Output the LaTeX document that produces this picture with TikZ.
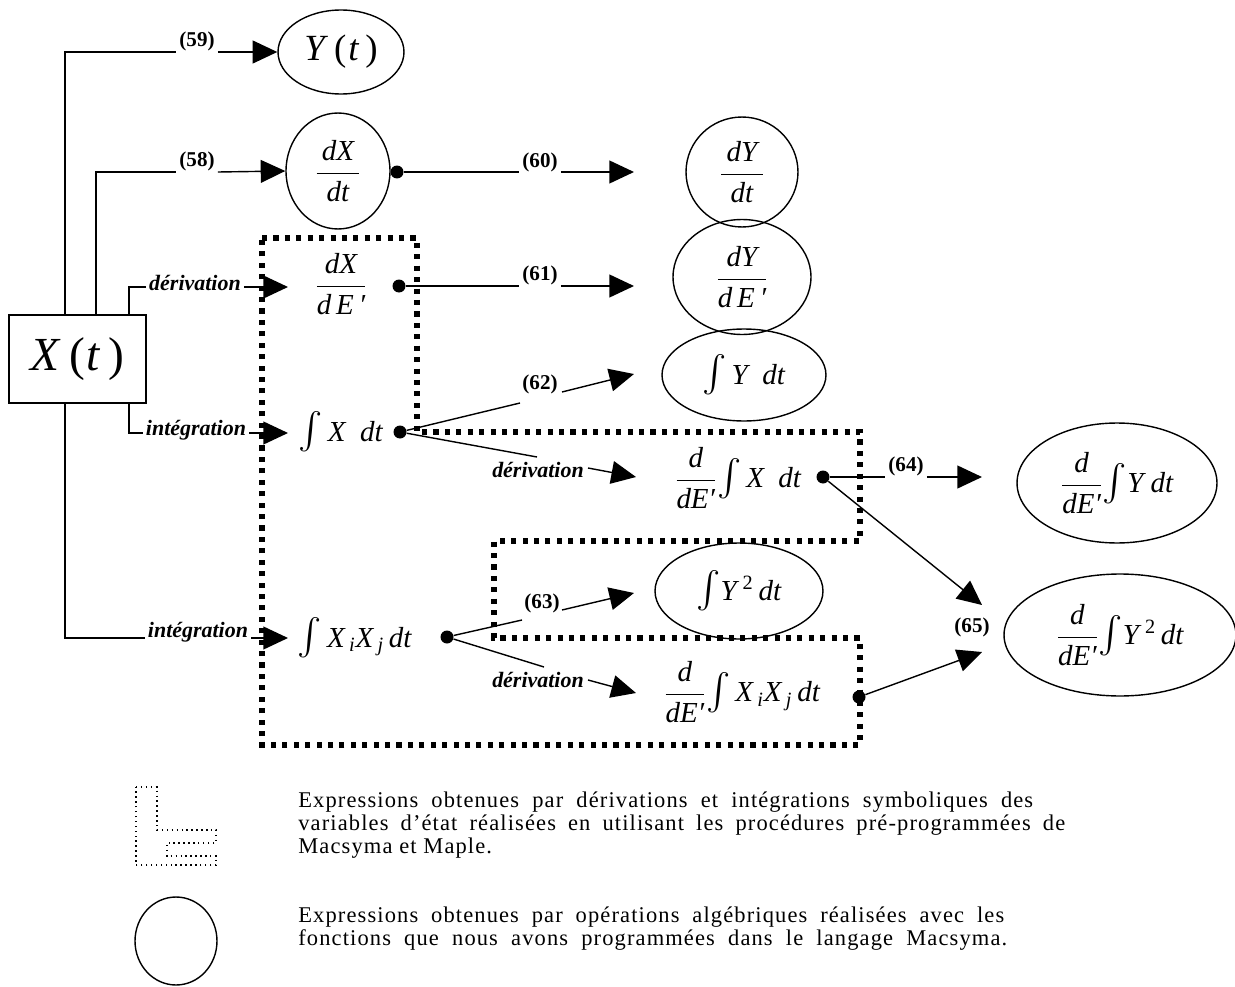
\documentclass[tikz,border=0pt]{standalone}
\usepackage{amsmath}
\usepackage{fontspec}
\setmainfont{Liberation Serif}
\newfontfamily\legff[LetterSpace=5]{Liberation Serif}
\usetikzlibrary{shapes.geometric,arrows.meta,calc}
\newcommand\myfrac[2]{$\dfrac{\text{\itshape\kern3pt#1\kern3pt}}{\text{\itshape#2}}$}
\newcommand\myint{{\fontsize{21}{24}\selectfont$\int$}}
\begin{document}
\begin{tikzpicture}[x=0.02cm,y=-0.02cm,
  ln/.style={line width=0.8pt},
  arr/.style={line width=0.8pt,-{Triangle[length=14pt,width=13pt]}},
  ell/.style={draw,ellipse,line width=0.8pt,inner sep=0pt},
  lbl/.style={font=\fontsize{12}{14}\selectfont\bfseries,inner xsep=1.7pt,inner ysep=1pt},
  opl/.style={font=\fontsize{12.5}{14}\selectfont\bfseries\itshape,inner xsep=1.7pt,inner ysep=1pt},
  mth/.style={font=\fontsize{16.5}{19}\selectfont,inner sep=0pt},
  dot/.style={circle,fill,inner sep=0pt,minimum size=0.26cm},
  zone/.style={line width=2.9pt,dash pattern=on 2.9pt off 3.6pt},
  legtxt/.style={font=\legff\fontsize{12.8}{13}\selectfont,align=left,inner sep=0pt},
]
\useasboundingbox (0,0) rectangle (1235,987);

% dotted zone
\draw[zone] (262,238) -- (417,238) -- (417,432) -- (860,432) -- (860,541) -- (494,541)
  -- (494,638) -- (860,638) -- (860,745) -- (262,745) -- cycle;

% main box
\node[draw,line width=1.2pt,minimum width=2.74cm,minimum height=1.76cm,inner sep=0pt,
  font=\fontsize{27}{30}\selectfont] (Xt) at (77.5,359) {\textit{X}\,(\kern1pt\textit{t}\,)};

% ellipses
\node[ell,minimum width=2.52cm,minimum height=1.68cm,font=\fontsize{21}{24}\selectfont] (Yt) at (341,52) {\textit{Y}\,(\kern1pt\textit{t}\,)};
\node[ell,mth,minimum width=2.08cm,minimum height=2.32cm] (dXdt) at (338,171) {\myfrac{dX}{dt}};
\node[ell,mth,minimum width=2.24cm,minimum height=2.2cm] (dYdt) at (742,172) {\myfrac{dY}{dt}};
\node[ell,mth,minimum width=2.76cm,minimum height=2.3cm] (dYdE) at (742,277) {\myfrac{dY}{d\,E\,′}};
\node[ell,mth,minimum width=3.28cm,minimum height=1.84cm] (intY) at (744,375) {\myint\,\textit{Y\ \ dt}};
\node[ell,mth,minimum width=3.36cm,minimum height=1.92cm] (intY2) at (739,591) {\myint\textit{Y}\textsuperscript{\,2}\,\textit{dt}};
\node[ell,mth,minimum width=4.0cm,minimum height=2.4cm] (ddEY) at (1117,483) {\myfrac{d}{dE′}\myint\textit{Y dt}};
\node[ell,mth,minimum width=4.64cm,minimum height=2.44cm] (ddEY2) at (1120,635) {\myfrac{d}{dE′}\myint\textit{Y}\textsuperscript{\,2}\,\textit{dt}};

% plain expressions
\node[mth] (dXdE) at (341,284) {\myfrac{dX}{d\,E\,′}};
\node[mth] (intX) at (341,432) {\myint\,\textit{X\ \ dt}};
\node[mth] (intXX) at (355,638) {\myint\,\textit{X}\textsubscript{\,\itshape i}\textit{X}\textsubscript{\,\itshape j}\,\textit{dt}};
\node[mth] (ddEX) at (738,478) {\myfrac{d}{dE′}\myint\,\textit{X\ \ dt}};
\node[mth] (ddEXX) at (742,692) {\myfrac{d}{dE′}\myint\,\textit{X}\textsubscript{\,\itshape i}\textit{X}\textsubscript{\,\itshape j}\,\textit{dt}};

% dots
\node[dot] (D1) at (397,172) {};
\node[dot] (D2) at (399,286) {};
\node[dot] (D3) at (400,432) {};
\node[dot] (D4) at (823,477) {};
\node[dot] (D5) at (447,637) {};
\node[dot] (D6) at (859,697) {};

% labels
\node[lbl] (l59) at (197,41) {(59)};
\node[lbl] (l58) at (197,161) {(58)};
\node[opl] (d1) at (195,283) {dérivation};
\node[opl] (i1) at (196,430) {intégration};
\node[opl] (i2) at (198,632) {intégration};
\node[lbl] (l60) at (540,162) {(60)};
\node[lbl] (l61) at (540,275) {(61)};
\node[lbl] (l62) at (540,384) {(62)};
\node[opl] (d2) at (538,470) {dérivation};
\node[lbl] (l63) at (542,603) {(63)};
\node[opl] (d3) at (538,680) {dérivation};
\node[lbl] (l64) at (906,466) {(64)};
\node[lbl] (l65) at (972,627) {(65)};

% tips and gap ends
\coordinate (tdx) at (288,287);
\coordinate (tix) at (288,433);
\coordinate (tixx) at (288,638);
\coordinate (t60) at (634,172);
\coordinate (t61) at (634,286);
\coordinate (a62) at (520,403); \coordinate (b62) at (562,392); \coordinate (t62) at (634,374);
\coordinate (ad2) at (537,457); \coordinate (bd2) at (588,468); \coordinate (td2) at (636,477);
\coordinate (a63) at (522,620); \coordinate (b63) at (562,610); \coordinate (t63) at (634,593);
\coordinate (ad3) at (544,667); \coordinate (bd3) at (588,680); \coordinate (td3) at (636,693);
\coordinate (t64) at (982,477);
\coordinate (t65) at (982,605);
\coordinate (t66) at (982,652);

% connectors from X(t)
\draw[ln] (65,0 |- Xt.north) |- (l59.west |- 0,52);
\draw[arr] (l59.east |- 0,52) -- (Yt.west);
\draw[ln] (96,0 |- Xt.north) |- (l58.west |- 0,172);
\draw[arr] (l58.east |- 0,172) -- (dXdt.west);
\draw[ln] (129,0 |- Xt.north) |- (d1.west |- tdx);
\draw[arr] (d1.east |- tdx) -- (tdx);
\draw[ln] (129,0 |- Xt.south) |- (i1.west |- tix);
\draw[arr] (i1.east |- tix) -- (tix);
\draw[ln] (65,0 |- Xt.south) |- (i2.west |- tixx);
\draw[arr] (i2.east |- tixx) -- (tixx);

% connectors from dots
\draw[ln] (D1) -- (l60.west |- D1);
\draw[arr] (l60.east |- D1) -- (t60);
\draw[ln] (D2) -- (l61.west |- D2);
\draw[arr] (l61.east |- D2) -- (t61);
\draw[ln] (D3) -- (a62);
\draw[arr] (b62) -- (t62);
\draw[ln] (D3) -- (ad2);
\draw[arr] (bd2) -- (td2);
\draw[ln] (D5) -- (a63);
\draw[arr] (b63) -- (t63);
\draw[ln] (D5) -- (ad3);
\draw[arr] (bd3) -- (td3);
\draw[ln] (D4) -- (l64.west |- D4);
\draw[arr] (l64.east |- D4) -- (t64);
\draw[arr] (D4) -- (t65);
\draw[arr] (D6) -- (t66);

% legend
\draw[line width=0.8pt,dotted] (136,787) -- (157,787) -- (157,830) -- (216,830) -- (216,843)
  -- (167,843) -- (167,856) -- (216,856) -- (216,865) -- (136,865) -- cycle;
\node[ell,minimum width=1.64cm,minimum height=1.76cm] (lc) at (176,941) {};
\node[legtxt,anchor=base west] (lt1) at (298,853) {\makebox[14.7cm][s]{Expressions obtenues par dérivations et intégrations symboliques des}\\\makebox[15.34cm][s]{variables d’état réalisées en utilisant les procédures pré-programmées de}\\Macsyma et Maple.};
\node[legtxt,anchor=base west] (lt2) at (298,945) {\makebox[14.12cm][s]{Expressions obtenues par opérations algébriques réalisées avec les}\\\makebox[14.18cm][s]{fonctions que nous avons programmées dans le langage Macsyma.}};
\end{tikzpicture}
\end{document}
